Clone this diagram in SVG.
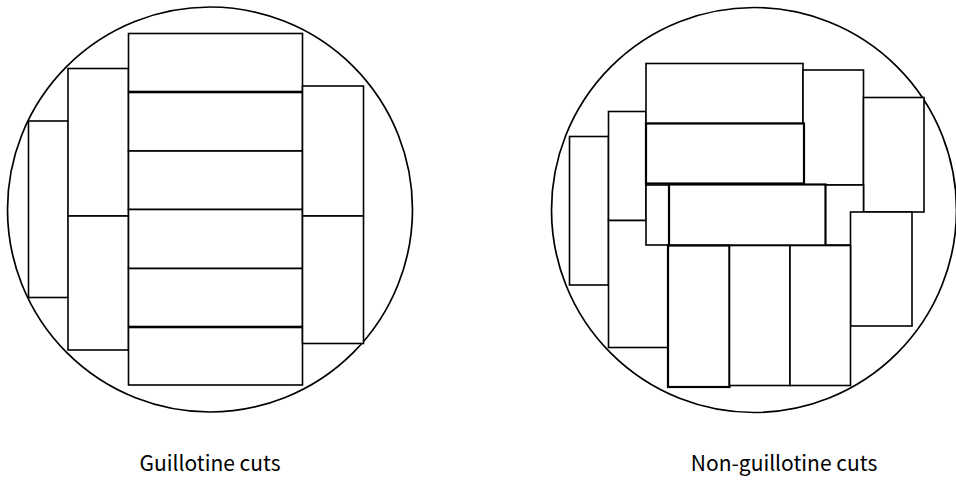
<svg xmlns="http://www.w3.org/2000/svg" width="956" height="501" viewBox="0 0 956 501">
  <style>
    .disc { fill: #ffffff; stroke: #000000; stroke-width: 1.7; }
    .piece { fill: #ffffff; stroke: #000000; stroke-width: 1.6; }
    .bold { stroke-width: 2.2; }
    .caption { font-family: "Noto Sans CJK KR", "Noto Sans", "Liberation Sans", sans-serif; font-size: 21px; fill: #000000; text-anchor: middle; }
  </style>
  <rect width="956" height="501" fill="#ffffff"/>

  <!-- Left wafer: pieces separated by edge-to-edge (guillotine) cuts -->
  <g id="guillotine">
    <circle class="disc" cx="210" cy="209.5" r="202.5"/>
    <rect class="piece" x="28.5" y="121" width="40" height="176.5"/>
    <rect class="piece" x="68" y="68.5" width="60.5" height="147.5"/>
    <rect class="piece" x="68" y="216" width="60.5" height="134"/>
    <rect class="piece" x="128.5" y="33.5" width="174" height="58"/>
    <rect class="piece" x="128.5" y="92.5" width="174" height="58.5"/>
    <rect class="piece" x="128.5" y="151" width="174" height="58.5"/>
    <rect class="piece" x="128.5" y="209.5" width="174" height="59"/>
    <rect class="piece" x="128.5" y="268.5" width="174" height="58"/>
    <rect class="piece" x="128.5" y="327.5" width="174" height="57.5"/>
    <rect class="piece" x="302.5" y="86" width="61" height="130"/>
    <rect class="piece" x="302.5" y="216" width="61" height="127.5"/>
    <text class="caption" x="210" y="471">Guillotine cuts</text>
  </g>

  <!-- Right wafer: interlocking pieces that need non-guillotine cuts -->
  <g id="non-guillotine">
    <circle class="disc" cx="754" cy="210" r="202.5"/>
    <rect class="piece" x="569.5" y="136.5" width="39" height="148.5"/>
    <rect class="piece" x="608.5" y="111.5" width="37.5" height="109"/>
    <rect class="piece" x="608.5" y="220.5" width="60" height="127"/>
    <rect class="piece" x="646" y="63.5" width="157" height="60"/>
    <rect class="piece" x="803" y="70" width="60.5" height="115"/>
    <rect class="piece" x="863.5" y="97.5" width="60.5" height="114.5"/>
    <rect class="piece" x="646" y="185" width="217.5" height="60"/>
    <rect class="piece bold" x="646" y="123.5" width="158" height="60"/>
    <rect class="piece bold" x="669" y="184.5" width="156.5" height="61"/>
    <rect class="piece" x="850.5" y="212" width="61.5" height="114"/>
    <rect class="piece bold" x="668" y="245.5" width="61.5" height="141.5"/>
    <rect class="piece" x="729.5" y="245.5" width="60.5" height="140"/>
    <rect class="piece" x="790" y="245.5" width="60.5" height="140"/>
    <text class="caption" x="784" y="471">Non-guillotine cuts</text>
  </g>
</svg>
